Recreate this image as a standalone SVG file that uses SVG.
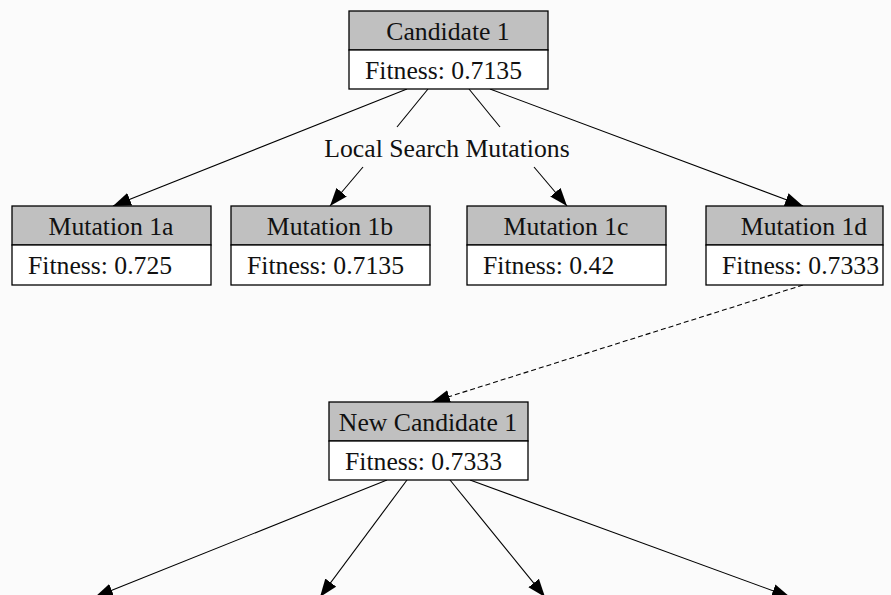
<svg xmlns="http://www.w3.org/2000/svg" width="891" height="595" viewBox="0 0 891 595">
<defs>
<style>
.hd{fill:#c0c0c0;stroke:#000;stroke-width:1.3}
.bd{fill:#fff;stroke:#000;stroke-width:1.3}
text{font-family:"Liberation Serif","Times New Roman",serif;font-size:25.7px;fill:#111}
.c{text-anchor:middle}
.e{stroke:#000;stroke-width:1.1;fill:none}
.d{stroke-dasharray:5,3}
</style>
<marker id="ah" markerUnits="userSpaceOnUse" markerWidth="18" markerHeight="14" viewBox="0 0 16 12" refX="16" refY="6" orient="auto">
<path d="M0,0 L16,6 L0,12 Z" fill="#000"/>
</marker>
</defs>
<rect width="891" height="595" fill="#fbfbfb"/>
<g id="edges">
<line class="e" x1="407" y1="89" x2="113" y2="206" marker-end="url(#ah)"/>
<line class="e" x1="428" y1="89" x2="397" y2="127"/>
<line class="e" x1="363" y1="167" x2="330" y2="206" marker-end="url(#ah)"/>
<line class="e" x1="469" y1="89" x2="500" y2="127"/>
<line class="e" x1="534" y1="167" x2="567" y2="206" marker-end="url(#ah)"/>
<line class="e" x1="490" y1="89" x2="803" y2="206" marker-end="url(#ah)"/>
<line class="e d" x1="803" y1="285" x2="432" y2="402" marker-end="url(#ah)"/>
<line class="e" x1="387" y1="480" x2="95" y2="597" marker-end="url(#ah)"/>
<line class="e" x1="407" y1="480" x2="320" y2="597" marker-end="url(#ah)"/>
<line class="e" x1="450" y1="480" x2="545" y2="597" marker-end="url(#ah)"/>
<line class="e" x1="470" y1="480" x2="790" y2="597" marker-end="url(#ah)"/>
<text class="c" x="447" y="157">Local Search Mutations</text>
</g>
<g id="candidate1">
<rect class="hd" x="349" y="11" width="199" height="39"/>
<rect class="bd" x="349" y="50" width="199" height="39"/>
<text class="c" x="448" y="40">Candidate 1</text>
<text x="365" y="79">Fitness: 0.7135</text>
</g>
<g id="mutation1a">
<rect class="hd" x="12" y="206" width="199" height="39"/>
<rect class="bd" x="12" y="245" width="199" height="40"/>
<text class="c" x="111" y="235">Mutation 1a</text>
<text x="28" y="274">Fitness: 0.725</text>
</g>
<g id="mutation1b">
<rect class="hd" x="231" y="206" width="199" height="39"/>
<rect class="bd" x="231" y="245" width="199" height="40"/>
<text class="c" x="330" y="235">Mutation 1b</text>
<text x="247" y="274">Fitness: 0.7135</text>
</g>
<g id="mutation1c">
<rect class="hd" x="467" y="206" width="199" height="39"/>
<rect class="bd" x="467" y="245" width="199" height="40"/>
<text class="c" x="566" y="235">Mutation 1c</text>
<text x="483" y="274">Fitness: 0.42</text>
</g>
<g id="mutation1d">
<rect class="hd" x="706" y="206" width="177" height="39"/>
<rect class="bd" x="706" y="245" width="177" height="40"/>
<text class="c" x="804" y="235">Mutation 1d</text>
<text x="722" y="274">Fitness: 0.7333</text>
</g>
<g id="newcandidate1">
<rect class="hd" x="329" y="402" width="199" height="39"/>
<rect class="bd" x="329" y="441" width="199" height="39"/>
<text class="c" x="428" y="431">New Candidate 1</text>
<text x="345" y="470">Fitness: 0.7333</text>
</g>
</svg>
